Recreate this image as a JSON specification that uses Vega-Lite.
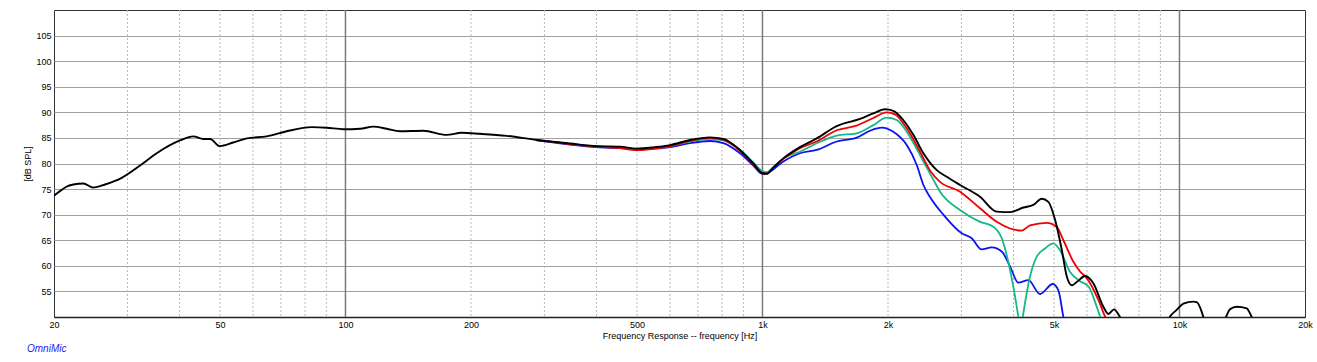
{
  "$schema": "https://vega.github.io/schema/vega-lite/v6.json",
  "width": 1251,
  "height": 307,
  "autosize": {"type": "none"},
  "padding": {"left": 54, "top": 10, "right": 12, "bottom": 45},
  "background": "white",
  "config": {"view": {"stroke": "#333333", "strokeWidth": 1}, "font": "Liberation Sans"},
  "title": {"text": "OmniMic", "orient": "bottom", "anchor": "start", "frame": "group", "dx": -27, "offset": 4, "color": "#1a1aee", "fontSize": 10, "fontStyle": "italic", "font": "Liberation Sans", "fontWeight": "normal", "baseline": "top"},
  "datasets": {
    "minor": [{"f": 30}, {"f": 40}, {"f": 50}, {"f": 60}, {"f": 70}, {"f": 80}, {"f": 90}, {"f": 200}, {"f": 300}, {"f": 400}, {"f": 500}, {"f": 600}, {"f": 700}, {"f": 800}, {"f": 900}, {"f": 2000}, {"f": 3000}, {"f": 4000}, {"f": 5000}, {"f": 6000}, {"f": 7000}, {"f": 8000}, {"f": 9000}],
    "major": [{"f": 100}, {"f": 1000}, {"f": 10000}],
    "black": [
      {"f": 20, "db": 73.7}, {"f": 20.67, "db": 74.6}, {"f": 21.36, "db": 75.4}, {"f": 22.25, "db": 75.9}, {"f": 23.51, "db": 76.1}, {"f": 24.84, "db": 75.3}, {"f": 26.5, "db": 75.9}, {"f": 29.07, "db": 77.2}, {"f": 32.16, "db": 79.6}, {"f": 35.26, "db": 82.0}, {"f": 40.1, "db": 84.5}, {"f": 43.16, "db": 85.3}, {"f": 45.6, "db": 84.8}, {"f": 47.33, "db": 84.8}, {"f": 50.0, "db": 83.4}, {"f": 53.8, "db": 84.1}, {"f": 58.0, "db": 84.9}, {"f": 64.7, "db": 85.3}, {"f": 72.3, "db": 86.3}, {"f": 83.0, "db": 87.1}, {"f": 90.2, "db": 87.0}, {"f": 98.8, "db": 86.7}, {"f": 108.4, "db": 86.8}, {"f": 116.6, "db": 87.2}, {"f": 125.6, "db": 86.8}, {"f": 135.1, "db": 86.3}, {"f": 153.7, "db": 86.4}, {"f": 174.9, "db": 85.6}, {"f": 190, "db": 86.0}, {"f": 210.2, "db": 85.8}, {"f": 243.6, "db": 85.4}, {"f": 287.5, "db": 84.6}, {"f": 345.5, "db": 83.9}, {"f": 400.4, "db": 83.4}, {"f": 455.4, "db": 83.3}, {"f": 499.5, "db": 82.9}, {"f": 552, "db": 83.2}, {"f": 600.2, "db": 83.6}, {"f": 670, "db": 84.6}, {"f": 748.6, "db": 85.1}, {"f": 805.6, "db": 84.8}, {"f": 883.5, "db": 82.6}, {"f": 950.6, "db": 80.0}, {"f": 999, "db": 78.1}, {"f": 1023.6, "db": 78.0}, {"f": 1061.6, "db": 79.2}, {"f": 1122, "db": 81.0}, {"f": 1230, "db": 83.2}, {"f": 1349, "db": 84.9}, {"f": 1506.5, "db": 87.3}, {"f": 1713.6, "db": 88.7}, {"f": 1844.6, "db": 89.8}, {"f": 1967, "db": 90.6}, {"f": 2059, "db": 90.3}, {"f": 2176, "db": 88.5}, {"f": 2300, "db": 85.6}, {"f": 2432, "db": 82.0}, {"f": 2618, "db": 78.7}, {"f": 2766, "db": 77.4}, {"f": 2977, "db": 75.8}, {"f": 3324, "db": 73.5}, {"f": 3646, "db": 70.6}, {"f": 3924, "db": 70.5}, {"f": 4223, "db": 71.4}, {"f": 4462, "db": 71.9}, {"f": 4674, "db": 73.1}, {"f": 4848, "db": 72.5}, {"f": 5031, "db": 69.0}, {"f": 5222, "db": 63.1}, {"f": 5368, "db": 57.9}, {"f": 5517, "db": 56.2}, {"f": 5700, "db": 57.0}, {"f": 5937, "db": 58.0}, {"f": 6215, "db": 56.6}, {"f": 6568, "db": 52.0}, {"f": 6752, "db": 50.6}, {"f": 6968, "db": 51.5}, {"f": 7202, "db": 50.0}, {"f": 7600, "db": 47.0}, {"f": 8266, "db": 44.0}, {"f": 9000, "db": 46.0}, {"f": 9493, "db": 50.1}, {"f": 9849, "db": 51.4}, {"f": 10216, "db": 52.6}, {"f": 10796, "db": 53.0}, {"f": 11000, "db": 52.9}, {"f": 11308, "db": 51.0}, {"f": 11409, "db": 50.0}, {"f": 11800, "db": 47.0}, {"f": 12500, "db": 47.0}, {"f": 12928, "db": 50.0}, {"f": 13220, "db": 51.5}, {"f": 13718, "db": 52.0}, {"f": 14496, "db": 51.7}, {"f": 14902, "db": 50.0}, {"f": 15500, "db": 47.0}, {"f": 20000, "db": 45.0}
    ],
    "red": [
      {"f": 287.5, "db": 84.6}, {"f": 345.5, "db": 83.8}, {"f": 400.4, "db": 83.3}, {"f": 455.4, "db": 83.0}, {"f": 499.5, "db": 82.6}, {"f": 552, "db": 82.9}, {"f": 600.2, "db": 83.4}, {"f": 670, "db": 84.4}, {"f": 748.6, "db": 85.0}, {"f": 805.6, "db": 84.6}, {"f": 883.5, "db": 82.5}, {"f": 950.6, "db": 79.9}, {"f": 999, "db": 78.1}, {"f": 1023.6, "db": 78.0}, {"f": 1061.6, "db": 79.2}, {"f": 1122, "db": 80.9}, {"f": 1230, "db": 83.0}, {"f": 1349, "db": 84.3}, {"f": 1506.5, "db": 86.5}, {"f": 1682.6, "db": 87.4}, {"f": 1844.6, "db": 88.9}, {"f": 1985.6, "db": 90.0}, {"f": 2078.8, "db": 89.6}, {"f": 2218, "db": 86.9}, {"f": 2388, "db": 82.3}, {"f": 2524, "db": 78.6}, {"f": 2666, "db": 76.4}, {"f": 2977, "db": 74.5}, {"f": 3324, "db": 71.25}, {"f": 3646, "db": 68.6}, {"f": 3924, "db": 67.3}, {"f": 4186, "db": 66.9}, {"f": 4382, "db": 67.9}, {"f": 4805, "db": 68.4}, {"f": 5079, "db": 67.6}, {"f": 5268, "db": 65.0}, {"f": 5566, "db": 60.8}, {"f": 5775, "db": 58.9}, {"f": 5993, "db": 57.6}, {"f": 6389, "db": 53.35}, {"f": 6630, "db": 50.1}, {"f": 7000, "db": 47.0}
    ],
    "green": [
      {"f": 287.5, "db": 84.6}, {"f": 345.5, "db": 83.85}, {"f": 400.4, "db": 83.4}, {"f": 455.4, "db": 83.1}, {"f": 499.5, "db": 82.8}, {"f": 552, "db": 83.0}, {"f": 600.2, "db": 83.4}, {"f": 670, "db": 84.3}, {"f": 748.6, "db": 84.8}, {"f": 805.6, "db": 84.5}, {"f": 883.5, "db": 82.7}, {"f": 950.6, "db": 80.2}, {"f": 999, "db": 78.5}, {"f": 1023.6, "db": 78.3}, {"f": 1061.6, "db": 79.3}, {"f": 1122, "db": 81.0}, {"f": 1230, "db": 82.3}, {"f": 1349, "db": 83.95}, {"f": 1506.5, "db": 85.45}, {"f": 1682.6, "db": 85.9}, {"f": 1844.6, "db": 87.5}, {"f": 1985.6, "db": 88.95}, {"f": 2098, "db": 88.5}, {"f": 2258, "db": 85.2}, {"f": 2432, "db": 80.4}, {"f": 2570, "db": 76.8}, {"f": 2666, "db": 74.5}, {"f": 2977, "db": 70.9}, {"f": 3324, "db": 68.6}, {"f": 3578, "db": 67.65}, {"f": 3748, "db": 65.4}, {"f": 3924, "db": 59.2}, {"f": 4108, "db": 50.0}, {"f": 4160, "db": 47.0}, {"f": 4223, "db": 50.7}, {"f": 4382, "db": 57.9}, {"f": 4547, "db": 61.8}, {"f": 4760, "db": 63.4}, {"f": 4984, "db": 64.4}, {"f": 5173, "db": 63.0}, {"f": 5466, "db": 58.8}, {"f": 5775, "db": 57.0}, {"f": 6046, "db": 56.0}, {"f": 6333, "db": 52.0}, {"f": 6449, "db": 50.1}, {"f": 6700, "db": 47.0}
    ],
    "blue": [
      {"f": 287.5, "db": 84.5}, {"f": 345.5, "db": 83.7}, {"f": 400.4, "db": 83.2}, {"f": 455.4, "db": 83.0}, {"f": 499.5, "db": 82.8}, {"f": 552, "db": 82.9}, {"f": 600.2, "db": 83.2}, {"f": 670, "db": 84.0}, {"f": 748.6, "db": 84.4}, {"f": 805.6, "db": 84.0}, {"f": 883.5, "db": 82.0}, {"f": 950.6, "db": 79.6}, {"f": 999, "db": 78.0}, {"f": 1023.6, "db": 78.1}, {"f": 1122, "db": 80.4}, {"f": 1230, "db": 82.0}, {"f": 1349, "db": 82.65}, {"f": 1506.5, "db": 84.3}, {"f": 1682.6, "db": 85.05}, {"f": 1811, "db": 86.4}, {"f": 1931.6, "db": 87.0}, {"f": 2059, "db": 86.2}, {"f": 2218, "db": 83.6}, {"f": 2344, "db": 79.7}, {"f": 2432, "db": 75.8}, {"f": 2524, "db": 73.4}, {"f": 2715, "db": 70.0}, {"f": 3004, "db": 66.35}, {"f": 3175, "db": 65.4}, {"f": 3355, "db": 63.2}, {"f": 3546, "db": 63.6}, {"f": 3748, "db": 62.8}, {"f": 3924, "db": 59.9}, {"f": 4108, "db": 56.7}, {"f": 4341, "db": 57.2}, {"f": 4630, "db": 54.5}, {"f": 4967, "db": 56.45}, {"f": 5124, "db": 55.2}, {"f": 5268, "db": 50.0}, {"f": 5400, "db": 46.0}
    ]
  },
  "layer": [
    {
      "data": {"name": "minor"},
      "mark": {"type": "rule", "stroke": "#b8b8b8", "strokeWidth": 1, "strokeDash": [2, 2]},
      "encoding": {
        "x": {"field": "f", "type": "quantitative", "scale": {"type": "log", "domain": [20, 20000], "nice": false},
          "axis": {"values": [20, 50, 100, 200, 500, 1000, 2000, 5000, 10000, 20000], "labelExpr": "datum.value >= 1000 ? (datum.value / 1000) + 'k' : '' + datum.value", "title": "Frequency Response -- frequency [Hz]", "grid": false, "ticks": false, "domain": true, "domainColor": "#222222", "domainWidth": 1.5, "labelFont": "Liberation Sans", "labelFontSize": 9, "labelColor": "#000000", "labelPadding": 3, "labelFlush": false, "labelOverlap": false, "titleFont": "Liberation Sans", "titleFontSize": 9, "titleFontWeight": "normal", "titleColor": "#000000", "titlePadding": 2}}
      }
    },
    {
      "data": {"name": "major"},
      "mark": {"type": "rule", "stroke": "#7a7a7a", "strokeWidth": 1.5},
      "encoding": {
        "x": {"field": "f", "type": "quantitative", "scale": {"type": "log", "domain": [20, 20000], "nice": false},
          "axis": {"values": [20, 50, 100, 200, 500, 1000, 2000, 5000, 10000, 20000], "labelExpr": "datum.value >= 1000 ? (datum.value / 1000) + 'k' : '' + datum.value", "title": "Frequency Response -- frequency [Hz]", "grid": false, "ticks": false, "domain": true, "domainColor": "#222222", "domainWidth": 1.5, "labelFont": "Liberation Sans", "labelFontSize": 9, "labelColor": "#000000", "labelPadding": 3, "labelFlush": false, "labelOverlap": false, "titleFont": "Liberation Sans", "titleFontSize": 9, "titleFontWeight": "normal", "titleColor": "#000000", "titlePadding": 2}}
      }
    },
    {
      "data": {"name": "blue"},
      "mark": {"type": "line", "color": "#0a14f0", "strokeWidth": 1.8, "interpolate": "monotone", "clip": true},
      "encoding": {
        "x": {"field": "f", "type": "quantitative", "scale": {"type": "log", "domain": [20, 20000], "nice": false},
          "axis": {"values": [20, 50, 100, 200, 500, 1000, 2000, 5000, 10000, 20000], "labelExpr": "datum.value >= 1000 ? (datum.value / 1000) + 'k' : '' + datum.value", "title": "Frequency Response -- frequency [Hz]", "grid": false, "ticks": false, "domain": true, "domainColor": "#222222", "domainWidth": 1.5, "labelFont": "Liberation Sans", "labelFontSize": 9, "labelColor": "#000000", "labelPadding": 3, "labelFlush": false, "labelOverlap": false, "titleFont": "Liberation Sans", "titleFontSize": 9, "titleFontWeight": "normal", "titleColor": "#000000", "titlePadding": 2}},
        "y": {"field": "db", "type": "quantitative", "scale": {"domain": [50, 110], "nice": false, "zero": false},
          "axis": {"values": [55, 60, 65, 70, 75, 80, 85, 90, 95, 100, 105], "title": "[dB SPL]", "grid": true, "gridColor": "#a0a0a0", "gridWidth": 1, "ticks": false, "domain": false, "labelFont": "Liberation Sans", "labelFontSize": 9, "labelColor": "#000000", "labelPadding": 3, "titleFont": "Liberation Sans", "titleFontSize": 9, "titleFontWeight": "normal", "titleColor": "#000000", "titlePadding": 3}}
      }
    },
    {
      "data": {"name": "green"},
      "mark": {"type": "line", "color": "#14b88a", "strokeWidth": 1.8, "interpolate": "monotone", "clip": true},
      "encoding": {
        "x": {"field": "f", "type": "quantitative", "scale": {"type": "log", "domain": [20, 20000], "nice": false},
          "axis": {"values": [20, 50, 100, 200, 500, 1000, 2000, 5000, 10000, 20000], "labelExpr": "datum.value >= 1000 ? (datum.value / 1000) + 'k' : '' + datum.value", "title": "Frequency Response -- frequency [Hz]", "grid": false, "ticks": false, "domain": true, "domainColor": "#222222", "domainWidth": 1.5, "labelFont": "Liberation Sans", "labelFontSize": 9, "labelColor": "#000000", "labelPadding": 3, "labelFlush": false, "labelOverlap": false, "titleFont": "Liberation Sans", "titleFontSize": 9, "titleFontWeight": "normal", "titleColor": "#000000", "titlePadding": 2}},
        "y": {"field": "db", "type": "quantitative", "scale": {"domain": [50, 110], "nice": false, "zero": false},
          "axis": {"values": [55, 60, 65, 70, 75, 80, 85, 90, 95, 100, 105], "title": "[dB SPL]", "grid": true, "gridColor": "#a0a0a0", "gridWidth": 1, "ticks": false, "domain": false, "labelFont": "Liberation Sans", "labelFontSize": 9, "labelColor": "#000000", "labelPadding": 3, "titleFont": "Liberation Sans", "titleFontSize": 9, "titleFontWeight": "normal", "titleColor": "#000000", "titlePadding": 3}}
      }
    },
    {
      "data": {"name": "red"},
      "mark": {"type": "line", "color": "#f00000", "strokeWidth": 1.8, "interpolate": "monotone", "clip": true},
      "encoding": {
        "x": {"field": "f", "type": "quantitative", "scale": {"type": "log", "domain": [20, 20000], "nice": false},
          "axis": {"values": [20, 50, 100, 200, 500, 1000, 2000, 5000, 10000, 20000], "labelExpr": "datum.value >= 1000 ? (datum.value / 1000) + 'k' : '' + datum.value", "title": "Frequency Response -- frequency [Hz]", "grid": false, "ticks": false, "domain": true, "domainColor": "#222222", "domainWidth": 1.5, "labelFont": "Liberation Sans", "labelFontSize": 9, "labelColor": "#000000", "labelPadding": 3, "labelFlush": false, "labelOverlap": false, "titleFont": "Liberation Sans", "titleFontSize": 9, "titleFontWeight": "normal", "titleColor": "#000000", "titlePadding": 2}},
        "y": {"field": "db", "type": "quantitative", "scale": {"domain": [50, 110], "nice": false, "zero": false},
          "axis": {"values": [55, 60, 65, 70, 75, 80, 85, 90, 95, 100, 105], "title": "[dB SPL]", "grid": true, "gridColor": "#a0a0a0", "gridWidth": 1, "ticks": false, "domain": false, "labelFont": "Liberation Sans", "labelFontSize": 9, "labelColor": "#000000", "labelPadding": 3, "titleFont": "Liberation Sans", "titleFontSize": 9, "titleFontWeight": "normal", "titleColor": "#000000", "titlePadding": 3}}
      }
    },
    {
      "data": {"name": "black"},
      "mark": {"type": "line", "color": "#000000", "strokeWidth": 1.9, "interpolate": "monotone", "clip": true},
      "encoding": {
        "x": {"field": "f", "type": "quantitative", "scale": {"type": "log", "domain": [20, 20000], "nice": false},
          "axis": {"values": [20, 50, 100, 200, 500, 1000, 2000, 5000, 10000, 20000], "labelExpr": "datum.value >= 1000 ? (datum.value / 1000) + 'k' : '' + datum.value", "title": "Frequency Response -- frequency [Hz]", "grid": false, "ticks": false, "domain": true, "domainColor": "#222222", "domainWidth": 1.5, "labelFont": "Liberation Sans", "labelFontSize": 9, "labelColor": "#000000", "labelPadding": 3, "labelFlush": false, "labelOverlap": false, "titleFont": "Liberation Sans", "titleFontSize": 9, "titleFontWeight": "normal", "titleColor": "#000000", "titlePadding": 2}},
        "y": {"field": "db", "type": "quantitative", "scale": {"domain": [50, 110], "nice": false, "zero": false},
          "axis": {"values": [55, 60, 65, 70, 75, 80, 85, 90, 95, 100, 105], "title": "[dB SPL]", "grid": true, "gridColor": "#a0a0a0", "gridWidth": 1, "ticks": false, "domain": false, "labelFont": "Liberation Sans", "labelFontSize": 9, "labelColor": "#000000", "labelPadding": 3, "titleFont": "Liberation Sans", "titleFontSize": 9, "titleFontWeight": "normal", "titleColor": "#000000", "titlePadding": 3}}
      }
    }
  ]
}
